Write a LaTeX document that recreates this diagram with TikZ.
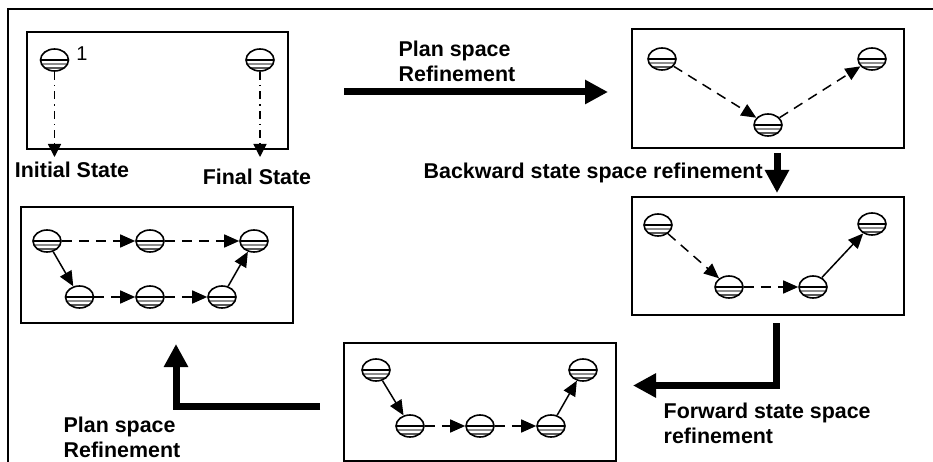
\documentclass[tikz,border=0pt]{standalone}
\usepackage{fontspec}
\setmainfont{Liberation Sans}
\usetikzlibrary{arrows.meta,shapes.geometric}
\tikzset{%
  stbox/.style    = {draw, line width=1.7pt, inner sep=0pt},%
  state/.style    = {ellipse, draw, line width=1.6pt, inner sep=0pt,%
                     minimum width=28pt, minimum height=22pt,%
                     path picture={%
                       \draw[line width=1.5pt] ([xshift=-16pt]path picture bounding box.center) -- ++(32pt,0);%
                       \draw[line width=1.2pt, black!45] ([xshift=-16pt,yshift=-4pt]path picture bounding box.center) -- ++(32pt,0);%
                       \draw[line width=1.2pt, black!65] ([xshift=-16pt,yshift=-8pt]path picture bounding box.center) -- ++(32pt,0);%
                     }},%
  solidarrow/.style = {line width=1.5pt, -{Triangle[length=15pt,width=13pt]}},%
  dasharrow/.style  = {solidarrow, dash pattern=on 10pt off 7pt},%
  dotarrow/.style   = {line width=1.4pt, dash pattern=on 8pt off 5pt on 1.5pt off 5pt,%
                       -{Triangle[length=13pt,width=13pt]}},%
  bigarrow/.style   = {line width=7pt, -{Triangle[length=23pt,width=23pt]}},%
  lbl/.style        = {font=\bfseries\fontsize{21.4}{25}\selectfont, inner sep=0pt, align=left}%
}

\begin{document}
\begin{tikzpicture}[x=1pt,y=-1pt]%
	\useasboundingbox (0,0) rectangle (933,462);
	\draw[line width=2.5pt] (8,462) -- (8,9) -- (933,9);%
	% boxes
	\node[stbox, minimum width=261pt, minimum height=117pt] (boxA) at (157.5,90.5) {};%
	\node[stbox, minimum width=272pt, minimum height=119pt] (boxB) at (768,88.5) {};%
	\node[stbox, minimum width=272pt, minimum height=118pt] (boxC) at (768,256) {};%
	\node[stbox, minimum width=272pt, minimum height=118pt] (boxD) at (480,402) {};%
	\node[stbox, minimum width=272pt, minimum height=116pt] (boxE) at (157,265) {};%
	% initial plan
	\node[state] (a1) at (54.5,60) {};%
	\node[state] (a2) at (260,60) {};%
	\node[inner sep=0pt, font=\fontsize{20}{20}\selectfont] (one) at (82,54) {1};%
	\node[lbl, anchor=base] (init) at (72,178) {Initial State};%
	\node[lbl, anchor=base] (final) at (257,185) {Final State};%
	\coordinate (a1end) at (54.5,157);%
	\coordinate (a2end) at (260,157);%
	\draw[dotarrow] (a1) -- (a1end);%
	\draw[dotarrow] (a2) -- (a2end);%
	% after plan space refinement
	\node[state] (b1) at (662,59) {};%
	\node[state] (b2) at (768,125) {};%
	\node[state] (b3) at (872,59) {};%
	\draw[dasharrow] (b1) -- (b2);%
	\draw[dasharrow] (b2) -- (b3);%
	% after backward refinement
	\node[state] (c1) at (658,225) {};%
	\node[state] (c2) at (729,287) {};%
	\node[state] (c3) at (813,287) {};%
	\node[state] (c4) at (872,224) {};%
	\draw[dasharrow] (c1) -- (c2);%
	\draw[dasharrow] (c2) -- (c3);%
	\draw[solidarrow] (c3) -- (c4);%
	% after forward refinement
	\node[state] (d1) at (376,370) {};%
	\node[state] (d2) at (410,426) {};%
	\node[state] (d3) at (480,426) {};%
	\node[state] (d4) at (551,426) {};%
	\node[state] (d5) at (583,370) {};%
	\draw[solidarrow] (d1) -- (d2);%
	\draw[dasharrow] (d2) -- (d3);%
	\draw[dasharrow] (d3) -- (d4);%
	\draw[solidarrow] (d4) -- (d5);%
	% after second plan space refinement
	\node[state] (e1) at (47,241) {};%
	\node[state] (e2) at (150,241) {};%
	\node[state] (e3) at (254,241) {};%
	\node[state] (e4) at (79.5,297) {};%
	\node[state] (e5) at (150,297) {};%
	\node[state] (e6) at (222,297) {};%
	\draw[dasharrow] (e1) -- (e2);%
	\draw[dasharrow] (e2) -- (e3);%
	\draw[solidarrow] (e1) -- (e4);%
	\draw[dasharrow] (e4) -- (e5);%
	\draw[dasharrow] (e5) -- (e6);%
	\draw[solidarrow] (e6) -- (e3);%
	% refinement steps
	\coordinate (planA) at (344,92);%
	\coordinate (planB) at (608,92);%
	\coordinate (backA) at (777,153);%
	\coordinate (backB) at (777,193);%
	\coordinate (fwdA) at (776.5,323);%
	\coordinate (fwdB) at (776.5,385.5);%
	\coordinate (fwdC) at (633,385.5);%
	\coordinate (planC) at (320,406);%
	\coordinate (planD) at (176,406);%
	\coordinate (planE) at (176,344);%
	\draw[bigarrow] (planA) -- (planB);%
	\draw[bigarrow] (backA) -- (backB);%
	\draw[bigarrow] (fwdA) -- (fwdB) -- (fwdC);%
	\draw[bigarrow] (planC) -- (planD) -- (planE);%
	\node[lbl, anchor=north west] (plan1) at (398.5,41) {Plan space\\Refinement};%
	\node[lbl, anchor=base west] (back) at (423.5,179) {Backward state space refinement};%
	\node[lbl, anchor=north west] (fwd) at (663.5,403) {Forward state space\\refinement};%
	\node[lbl, anchor=north west] (plan2) at (63.5,417) {Plan space\\Refinement};%
\end{tikzpicture}
\end{document}
